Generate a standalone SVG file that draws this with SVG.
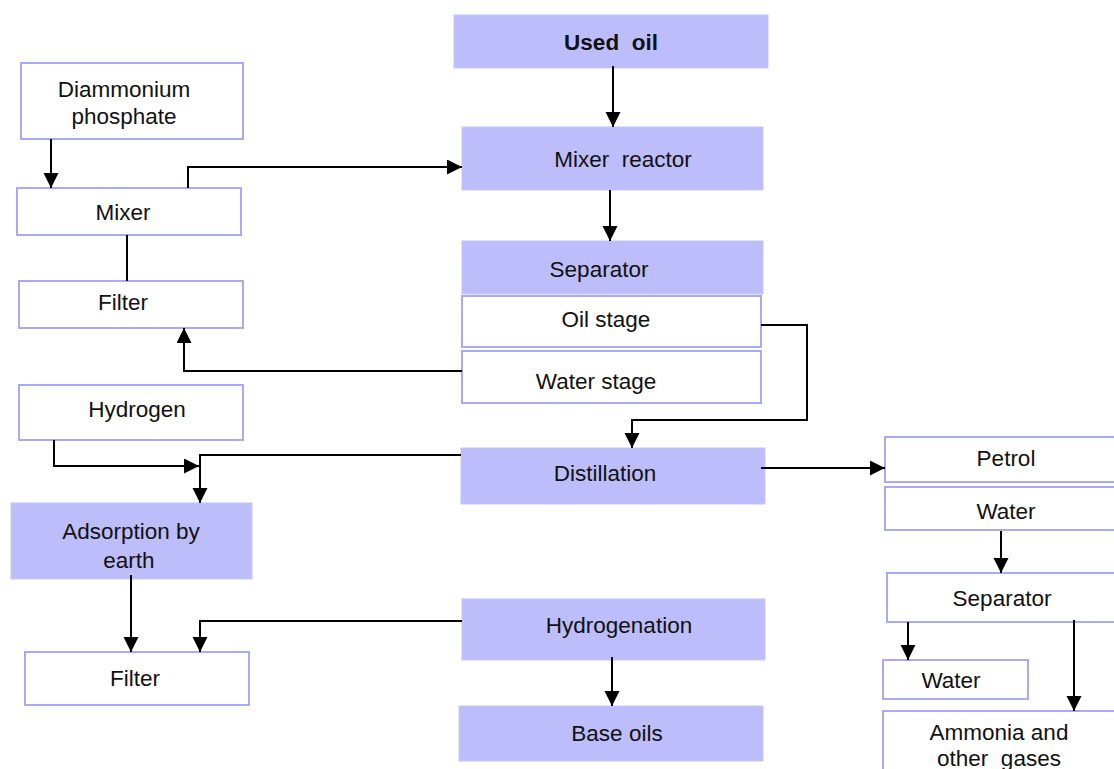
<svg xmlns="http://www.w3.org/2000/svg" width="1114" height="769" viewBox="0 0 1114 769">
<defs>
<style>
.f{fill:#bdbdfc;stroke:#c4c4fa;stroke-width:1}
.w{fill:#ffffff;stroke:#a9a9f5;stroke-width:2}
text{font-family:"Liberation Sans",Arial,sans-serif;font-size:22.5px;fill:#111;text-anchor:middle}
.b{font-weight:bold}
.c{fill:none;stroke:#000;stroke-width:2}
</style>
<marker id="ah" markerUnits="userSpaceOnUse" markerWidth="16" markerHeight="16" refX="15" refY="7.5" orient="auto">
<path d="M0,0 L15,7.5 L0,15 z" fill="#000"/>
</marker>
</defs>
<rect width="1114" height="769" fill="#fff"/>
<g id="used-oil"><rect class="f" x="454" y="15" width="314" height="53"/><text class="b" x="611" y="50" xml:space="preserve">Used  oil</text></g>
<g id="mixer-reactor"><rect class="f" x="462" y="127" width="301" height="63"/><text x="623" y="167" xml:space="preserve">Mixer  reactor</text></g>
<g id="separator"><rect class="f" x="462" y="241" width="301" height="53"/><text x="599" y="277">Separator</text></g>
<g id="oil-stage"><rect class="w" x="462" y="296" width="299" height="51"/><text x="606" y="327">Oil stage</text></g>
<g id="water-stage"><rect class="w" x="462" y="351" width="299" height="52"/><text x="596" y="389">Water stage</text></g>
<g id="distillation"><rect class="f" x="461" y="448" width="304" height="56"/><text x="605" y="481">Distillation</text></g>
<g id="hydrogenation"><rect class="f" x="462" y="599" width="303" height="61"/><text x="619" y="633">Hydrogenation</text></g>
<g id="base-oils"><rect class="f" x="459" y="706" width="304" height="55"/><text x="617" y="741">Base oils</text></g>
<g id="diammonium"><rect class="w" x="21" y="63" width="222" height="76"/><text x="124" y="97">Diammonium</text><text x="124" y="124">phosphate</text></g>
<g id="mixer"><rect class="w" x="17" y="188" width="224" height="47"/><text x="123" y="220">Mixer</text></g>
<g id="filter-top"><rect class="w" x="19" y="281" width="224" height="47"/><text x="123" y="310">Filter</text></g>
<g id="hydrogen"><rect class="w" x="19" y="385" width="224" height="55"/><text x="137" y="417">Hydrogen</text></g>
<g id="adsorption"><rect class="f" x="11" y="503" width="241" height="76"/><text x="131" y="539">Adsorption by</text><text x="129" y="568">earth</text></g>
<g id="filter-bottom"><rect class="w" x="25" y="652" width="224" height="53"/><text x="135" y="686">Filter</text></g>
<g id="petrol"><rect class="w" x="885" y="437" width="240" height="45"/><text x="1006" y="466">Petrol</text></g>
<g id="water-top"><rect class="w" x="885" y="487" width="240" height="43"/><text x="1006" y="519">Water</text></g>
<g id="separator-right"><rect class="w" x="887" y="573" width="240" height="49"/><text x="1002" y="606">Separator</text></g>
<g id="water-bottom"><rect class="w" x="883" y="660" width="145" height="39"/><text x="951" y="688">Water</text></g>
<g id="ammonia"><rect class="w" x="883" y="711" width="240" height="70"/><text x="999" y="740">Ammonia and</text><text x="999" y="766" xml:space="preserve">other  gases</text></g>
<g id="connectors">
<path class="c" d="M613,66 V127" marker-end="url(#ah)"/>
<path class="c" d="M610,190 V241" marker-end="url(#ah)"/>
<path class="c" d="M51,139 V188" marker-end="url(#ah)"/>
<path class="c" d="M188,188 V167 H462" marker-end="url(#ah)"/>
<path class="c" d="M127,235 V281"/>
<path class="c" d="M462,371 H184 V328" marker-end="url(#ah)"/>
<path class="c" d="M761,325 H807 V420 H632 V448" marker-end="url(#ah)"/>
<path class="c" d="M54,440 V466 H199" marker-end="url(#ah)"/>
<path class="c" d="M461,455 H200 V503" marker-end="url(#ah)"/>
<path class="c" d="M761,468 H885" marker-end="url(#ah)"/>
<path class="c" d="M1001,531 V573" marker-end="url(#ah)"/>
<path class="c" d="M908,622 V660" marker-end="url(#ah)"/>
<path class="c" d="M1074,620 V711" marker-end="url(#ah)"/>
<path class="c" d="M131,575 V652" marker-end="url(#ah)"/>
<path class="c" d="M462,621 H200 V652" marker-end="url(#ah)"/>
<path class="c" d="M612,657 V706" marker-end="url(#ah)"/>
</g>
</svg>
